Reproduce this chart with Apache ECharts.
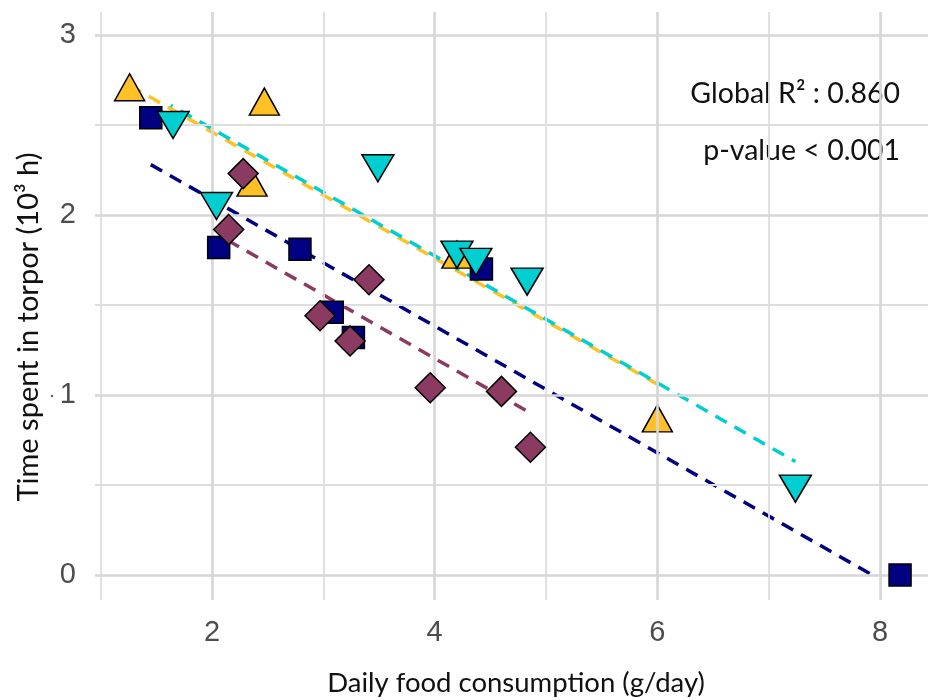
<!DOCTYPE html>
<html>
<head>
<meta charset="utf-8">
<script src="https://cdn.jsdelivr.net/npm/echarts@6/dist/echarts.min.js"></script>
<style>
html,body{margin:0;padding:0;background:#fff}
#main{width:928px;height:700px}
</style>
</head>
<body>
<div id="main"></div>
<script>
// grid / tick values
var xMajor = [2, 4, 6, 8];
var xMinor = [1, 3, 5, 7];
var yMajor = [0, 1, 2, 3];
var yMinor = [0.5, 1.5, 2.5];

// points, one pair of arrays per group
var orangeX = [1.26, 2.47, 2.36, 4.20, 6.00];
var orangeY = [2.71, 2.63, 2.18, 1.78, 0.87];
var cyanX = [1.65, 2.04, 3.49, 4.20, 4.37, 4.83, 7.24];
var cyanY = [2.50, 2.05, 2.26, 1.78, 1.74, 1.63, 0.48];
var navyX = [1.45, 2.06, 2.79, 3.08, 3.27, 4.42, 8.18];
var navyY = [2.54, 1.82, 1.81, 1.46, 1.32, 1.70, 0.00];
var plumX = [2.28, 2.15, 2.97, 3.24, 3.41, 3.96, 4.60, 4.86];
var plumY = [2.23, 1.92, 1.44, 1.30, 1.64, 1.04, 1.02, 0.71];

// fitted lines (end points)
var orangeFitX = [1.26, 6.00];
var orangeFitY = [2.72, 1.06];
var cyanFitX = [1.63, 7.24];
var cyanFitY = [2.61, 0.63];
var navyFitX = [1.45, 7.93];
var navyFitY = [2.28, 0.00];
var plumFitX = [2.14, 4.86];
var plumFitY = [1.86, 0.90];

var myChart = echarts.init(document.getElementById('main'));

function pairs(xs, ys) {
  return xs.map(function (x, i) { return [x, ys[i]]; });
}

// grid lines as markLines so there is no line on the panel edges
var gridLines = [];
xMinor.forEach(function (v) {
  gridLines.push({ xAxis: v, lineStyle: { color: '#dedede', width: 1.8, type: 'solid' } });
});
yMinor.forEach(function (v) {
  gridLines.push({ yAxis: v, lineStyle: { color: '#dedede', width: 1.8, type: 'solid' } });
});
xMajor.forEach(function (v) {
  gridLines.push({ xAxis: v, lineStyle: { color: '#d6d6d6', width: 2.6, type: 'solid' } });
});
yMajor.forEach(function (v) {
  gridLines.push({ yAxis: v, lineStyle: { color: '#d6d6d6', width: 2.6, type: 'solid' } });
});

function fitLine(xs, ys, color, offset) {
  return {
    type: 'line', data: pairs(xs, ys), symbol: 'none', z: 3, silent: true,
    lineStyle: { color: color, width: 3.5, type: [13, 9], dashOffset: offset || 0 }
  };
}

function points(xs, ys, color, symbol, size, rotate, z) {
  return {
    type: 'scatter', data: pairs(xs, ys), symbol: symbol, symbolSize: size,
    symbolRotate: rotate || 0, z: z,
    itemStyle: { color: color, borderColor: '#000', borderWidth: 1.5, opacity: 1 }
  };
}

function onlyTicks(list) {
  return function (v) {
    return list.indexOf(Math.round(v * 1000) / 1000) >= 0 ? String(Math.round(v)) : '';
  };
}

var tickLabel = { color: '#4d4d4d', fontSize: 29, fontFamily: 'Liberation Sans' };

option = {
  animation: false,
  grid: { left: 95, right: 0, top: 12, bottom: 100 },
  xAxis: {
    type: 'value', min: 0.949, max: 8.431,
    axisLine: { show: false }, axisTick: { show: false }, splitLine: { show: false },
    axisLabel: Object.assign({ margin: 18, showMinLabel: false, showMaxLabel: false,
      formatter: onlyTicks(xMajor) }, tickLabel)
  },
  yAxis: {
    type: 'value', min: -0.139, max: 3.128,
    axisLine: { show: false }, axisTick: { show: false }, splitLine: { show: false },
    axisLabel: Object.assign({ margin: 19, showMinLabel: false, showMaxLabel: false,
      formatter: onlyTicks(yMajor) }, tickLabel)
  },
  series: [
    {
      type: 'scatter', data: [], z: 1, silent: true,
      markLine: { silent: true, symbol: ['none', 'none'], animation: false, label: { show: false }, data: gridLines }
    },
    fitLine(orangeFitX, orangeFitY, '#FFC125', 0),
    fitLine(cyanFitX, cyanFitY, '#00CED1', 11),
    fitLine(navyFitX, navyFitY, '#000080', 0),
    fitLine(plumFitX, plumFitY, '#8B3A62', 0),
    points(orangeX, orangeY, '#FFC125', 'triangle', [30, 27], 0, 4),
    points(navyX, navyY, '#000080', 'rect', [22, 22], 0, 5),
    points(cyanX, cyanY, '#00CED1', 'triangle', [32, 27], 180, 6),
    points(plumX, plumY, '#8B3A62', 'diamond', [30, 30], 0, 7)
  ],
  graphic: [
    { type: 'text', right: 28, top: 79,
      style: { text: 'Global R\u00b2 : 0.860', fill: '#111', font: '28.5px Lato', textAlign: 'right' } },
    { type: 'text', right: 28, top: 136,
      style: { text: 'p-value < 0.001', fill: '#111', font: '28.5px Lato', textAlign: 'right' } },
    { type: 'text', x: 516, y: 683,
      style: { text: 'Daily food consumption (g/day)', fill: '#111', font: '27.5px Lato', textAlign: 'center', textVerticalAlign: 'middle' } },
    { type: 'text', x: 29, y: 327, rotation: Math.PI / 2,
      style: { text: 'Time spent in torpor (10\u00b3 h)', fill: '#111', font: '29px Lato', textAlign: 'center', textVerticalAlign: 'middle' } },
    { type: 'circle', shape: { cx: 52, cy: 396, r: 1.3 }, style: { fill: '#666' } }
  ]
};

myChart.setOption(option);
</script>
</body>
</html>
